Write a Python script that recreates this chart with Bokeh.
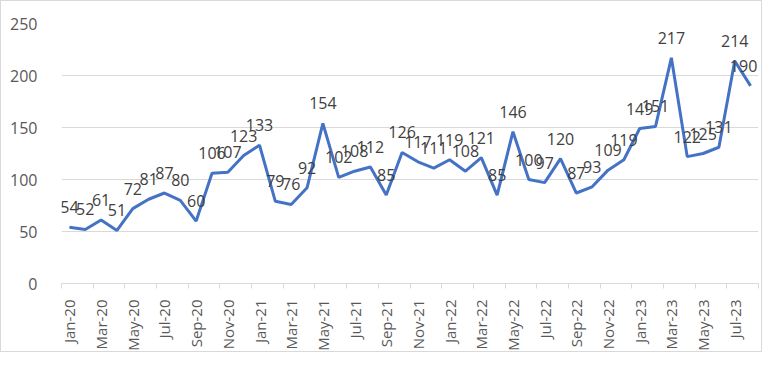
import math
from bokeh.plotting import figure
from bokeh.models import FixedTicker, Range1d, ColumnDataSource
from bokeh.core.properties import value
from bokeh.embed import file_html
from bokeh.resources import INLINE

months = ["Jan-20", "Feb-20", "Mar-20", "Apr-20", "May-20", "Jun-20", "Jul-20", "Aug-20",
          "Sep-20", "Oct-20", "Nov-20", "Dec-20",
          "Jan-21", "Feb-21", "Mar-21", "Apr-21", "May-21", "Jun-21", "Jul-21", "Aug-21",
          "Sep-21", "Oct-21", "Nov-21", "Dec-21",
          "Jan-22", "Feb-22", "Mar-22", "Apr-22", "May-22", "Jun-22", "Jul-22", "Aug-22",
          "Sep-22", "Oct-22", "Nov-22", "Dec-22",
          "Jan-23", "Feb-23", "Mar-23", "Apr-23", "May-23", "Jun-23", "Jul-23", "Aug-23"]
values = [54, 52, 61, 51, 72, 81, 87, 80, 60, 106, 107, 123,
          133, 79, 76, 92, 154, 102, 108, 112, 85, 126, 117, 111,
          119, 108, 121, 85, 146, 100, 97, 120, 87, 93, 109, 119,
          149, 151, 217, 122, 125, 131, 214, 190]
y_ticks = [0, 50, 100, 150, 200, 250]

FONT = "Open Sans"
n = len(months)
xs = list(range(n))
# keep the last label inside the plot area (Excel nudges it in as well)
x_off = [0] * (n - 1) + [-7]
src = ColumnDataSource(dict(x=xs, y=values, label=[str(v) for v in values], xoff=x_off))

p = figure(width=762, height=352, output_backend="svg", toolbar_location=None,
           x_range=Range1d(-0.5, n - 0.5), y_range=Range1d(0, 250),
           min_border_left=60, min_border_right=5, min_border_top=22, min_border_bottom=69)
p.outline_line_color = None
p.background_fill_color = "white"
p.border_fill_color = "white"
p.styles = {"border": "1px solid #d9d9d9"}

p.line("x", "y", source=src, line_color="#4472C4", line_width=3)
p.text("x", "y", text="label", source=src, text_align="center", text_baseline="middle",
       x_offset="xoff", y_offset=-20, text_font=value(FONT), text_font_size="16px",
       text_color="#404040")

major = [i for i in xs if i % 2 == 0]
minor = [i - 0.5 for i in range(0, n + 1, 2)]
p.xaxis.ticker = FixedTicker(ticks=major, minor_ticks=minor)
p.xaxis.major_label_overrides = {i: months[i] for i in major}
p.xaxis.major_label_orientation = math.pi / 2
p.xaxis.axis_line_color = "#d9d9d9"
p.xaxis.major_tick_line_color = None
p.xaxis.minor_tick_line_color = "#d9d9d9"
p.xaxis.minor_tick_in = 0
p.xaxis.minor_tick_out = 5
p.xaxis.major_label_standoff = 10
p.xaxis.major_label_text_font = FONT
p.xaxis.major_label_text_font_size = "15px"
p.xaxis.major_label_text_color = "#595959"

p.yaxis.ticker = FixedTicker(ticks=y_ticks)
p.yaxis.axis_line_color = None
p.yaxis.major_tick_line_color = None
p.yaxis.minor_tick_line_color = None
p.yaxis.major_label_standoff = 18
p.yaxis.major_label_text_font = FONT
p.yaxis.major_label_text_font_size = "16px"
p.yaxis.major_label_text_color = "#595959"

p.xgrid.grid_line_color = None
p.ygrid.grid_line_color = "#d9d9d9"
p.ygrid.ticker = FixedTicker(ticks=y_ticks)

open("out.html", "w").write(file_html(p, INLINE))
